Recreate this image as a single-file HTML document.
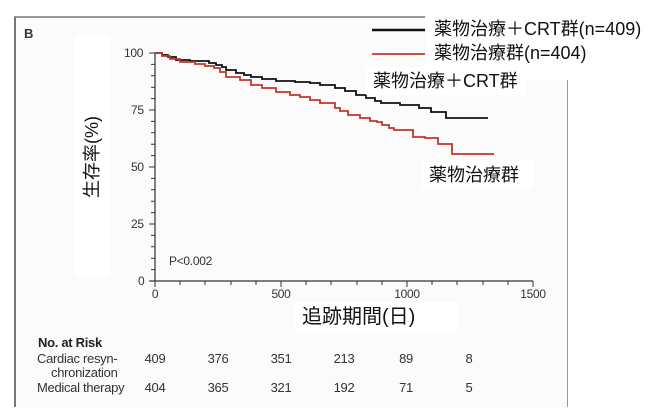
<!DOCTYPE html>
<html><head><meta charset="utf-8"><style>
body{margin:0;width:657px;height:419px;background:#fff;overflow:hidden;position:relative;font-family:"Liberation Sans","Noto Sans CJK JP",sans-serif}
.a{position:absolute;white-space:nowrap}
.jp{font-family:"Liberation Sans","Noto Sans CJK JP",sans-serif;color:#111;line-height:1}
.sm{font-size:12px;color:#333;letter-spacing:-0.3px;line-height:1}
.c{transform:translateX(-50%)}
</style></head><body>
<div class="a" style="left:14px;top:16px;width:551px;height:389px;background:#fbfbfb;border-left:2px solid #777;border-top:2px solid #999;border-right:1px solid #999"></div>
<div class="a" style="left:24px;top:26px;font-weight:bold;font-size:13px;color:#333">B</div>
<svg class="a" style="left:0;top:0" width="657" height="419">
<g stroke="#333" stroke-width="1.2" fill="none">
<line x1="155" y1="53" x2="155" y2="281"/>
<line x1="150" y1="281" x2="533" y2="281"/>
</g>
<g stroke="#333" stroke-width="1">
<path d="M149 53h6M149 110h6M149 167h6M149 224h6M149 281h6"/>
<path d="M151 64.4h4M151 75.8h4M151 87.2h4M151 98.6h4M151 121.4h4M151 132.8h4M151 144.2h4M151 155.6h4M151 178.4h4M151 189.8h4M151 201.2h4M151 212.6h4M151 235.4h4M151 246.8h4M151 258.2h4M151 269.6h4"/>
<path d="M155 281v6M281 281v6M407 281v6M533 281v6"/>
<path d="M180 281v4M205 281v4M231 281v4M256 281v4M306 281v4M331 281v4M357 281v4M382 281v4M432 281v4M457 281v4M483 281v4M508 281v4"/>
</g>
<path fill="none" stroke="#111" stroke-width="1.8" d="M155 53 H162 V55 H168 V57 H176 V60 H190 V61 H209 V63 H216 V65 H222 V67 H226 V70 H236 V73 H244 V75 H251 V77 H262 V79 H276 V81 H295 V82 H310 V83 H320 V85 H335 V88 H345 V91 H356 V95 H366 V98 H375 V101 H381 V103 H400 V105 H419 V105 H419 V108 H431 V108 H431 V112 H446 V112 H446 V118 H488 V118"/>
<path fill="none" stroke="#c0392b" stroke-width="1.8" d="M155 53 H162 V56 H170 V59 H180 V62 H195 V64 H205 V66 H214 V68 H220 V72 H226 V77 H240 V80 H251 V85 H262 V88 H276 V92 H290 V95 H300 V97 H310 V100 H320 V103 H335 V108 H340 V111 H348 V115 H360 V118 H370 V121 H377 V122 H382 V125 H389 V128 H394 V130 H413 V130 H413 V137 H425 V137 H425 V138 H438 V138 H438 V144 H452 V144 H452 V154 H494 V154"/>
<line x1="372" y1="30" x2="425" y2="30" stroke="#111" stroke-width="2.5"/>
<line x1="372" y1="54" x2="425" y2="54" stroke="#c0392b" stroke-width="1.8"/>
</svg>
<div class="a sm" style="left:124px;top:47px">100</div>
<div class="a sm" style="left:131px;top:104px">75</div>
<div class="a sm" style="left:131px;top:161px">50</div>
<div class="a sm" style="left:131px;top:218px">25</div>
<div class="a sm" style="left:138px;top:275px">0</div>
<div class="a sm c" style="left:155px;top:288px">0</div>
<div class="a sm c" style="left:281px;top:288px">500</div>
<div class="a sm c" style="left:407px;top:288px">1000</div>
<div class="a sm c" style="left:533px;top:288px">1500</div>
<div class="a sm" style="left:169px;top:255px">P&lt;0.002</div>
<div class="a" style="left:75px;top:35px;width:35px;height:242px;background:#fff"></div>
<div class="a jp" style="left:32px;top:147px;width:120px;font-size:18px;transform:rotate(-90deg);text-align:center;height:20px;line-height:20px">生存率(%)</div>
<div class="a" style="left:425px;top:14px;width:232px;height:66px;background:#fff"></div>
<div class="a jp" style="left:434px;top:20px;font-size:18px">薬物治療＋CRT群(n=409)</div>
<div class="a jp" style="left:434px;top:44px;font-size:18px">薬物治療群(n=404)</div>
<div class="a" style="left:366px;top:67px;width:160px;height:28px;background:#fff"></div>
<div class="a jp" style="left:373px;top:72px;font-size:18px">薬物治療＋CRT群</div>
<div class="a" style="left:421px;top:160px;width:112px;height:29px;background:#fff"></div>
<div class="a jp" style="left:429px;top:166px;font-size:18px">薬物治療群</div>
<div class="a" style="left:295px;top:302px;width:162px;height:30px;background:#fff"></div>
<div class="a jp" style="left:302px;top:307px;font-size:20px">追跡期間(日)</div>
<div class="a sm" style="left:38px;top:336px;font-weight:bold;color:#222;font-size:13px">No. at Risk</div>
<div class="a sm" style="left:37px;top:352px;font-size:13px">Cardiac resyn-</div>
<div class="a sm" style="left:51px;top:366px;font-size:13px">chronization</div>
<div class="a sm" style="left:37px;top:381px;font-size:13px">Medical therapy</div>
<div class="a sm c" style="left:155px;top:352px;font-size:13px">409</div><div class="a sm c" style="left:218px;top:352px;font-size:13px">376</div><div class="a sm c" style="left:281px;top:352px;font-size:13px">351</div><div class="a sm c" style="left:344px;top:352px;font-size:13px">213</div><div class="a sm c" style="left:406px;top:352px;font-size:13px">89</div><div class="a sm c" style="left:469px;top:352px;font-size:13px">8</div>
<div class="a sm c" style="left:155px;top:381px;font-size:13px">404</div><div class="a sm c" style="left:218px;top:381px;font-size:13px">365</div><div class="a sm c" style="left:281px;top:381px;font-size:13px">321</div><div class="a sm c" style="left:344px;top:381px;font-size:13px">192</div><div class="a sm c" style="left:406px;top:381px;font-size:13px">71</div><div class="a sm c" style="left:469px;top:381px;font-size:13px">5</div>
</body></html>
